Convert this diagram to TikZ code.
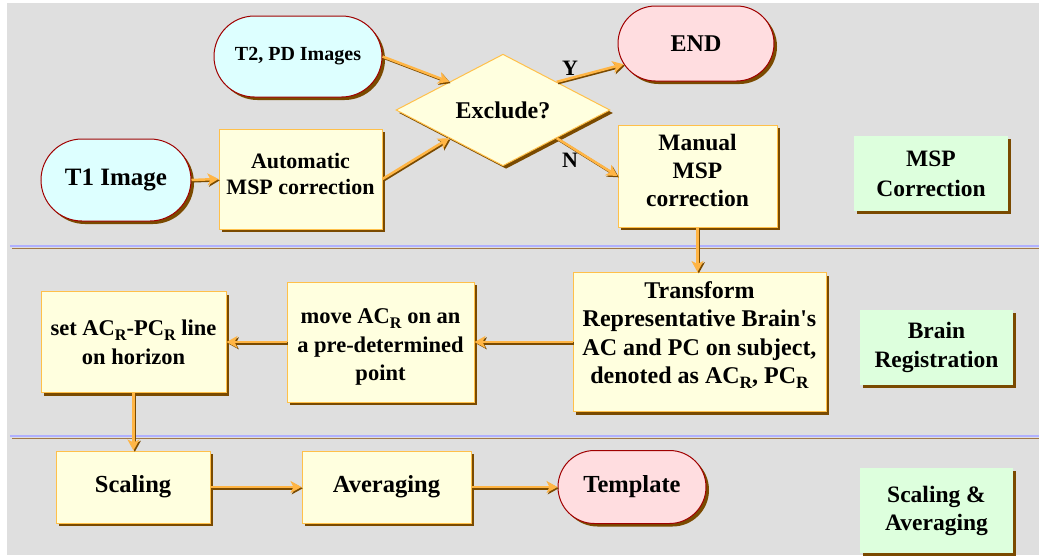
\documentclass[tikz,border=0pt]{standalone}
\usepackage{fontspec}
\setmainfont{Liberation Serif}
\usetikzlibrary{shapes.misc,shapes.geometric,shadows,arrows.meta,calc}
\definecolor{bg}{HTML}{DFDFDF}
\definecolor{boxfill}{HTML}{FFFFDF}
\definecolor{boxdraw}{HTML}{FFC04A}
\definecolor{cyanfill}{HTML}{DDFFFF}
\definecolor{pinkfill}{HTML}{FFDDE0}
\definecolor{greenfill}{HTML}{DDFFDD}
\definecolor{redline}{HTML}{A00000}
\definecolor{shadowbrown}{HTML}{7A4A00}
\definecolor{arroworange}{HTML}{FFB545}
\definecolor{sepblue}{HTML}{B0B0FF}
\definecolor{sepbrown}{HTML}{A07848}
\newcommand\fsz[2]{\fontsize{#1}{#2}\selectfont\bfseries}
\newcommand\sbR{\raisebox{-0.22em}{\scalebox{0.72}{R}}}
\newcommand\sq{\XeTeXglyph\XeTeXcharglyph"0027\relax}
\tikzset{
  shad/.style={drop shadow={shadow xshift=3pt,shadow yshift=-3pt,fill=shadowbrown,opacity=1}},
  proc/.style={rectangle, draw=boxdraw, line width=1pt, fill=boxfill, shad, align=center, inner sep=0pt},
  term/.style={rounded rectangle, draw=redline, line width=1pt, shad, align=center, inner sep=0pt},
  lab/.style={rectangle, fill=greenfill, shad, align=center, inner sep=0pt},
  dec/.style={diamond, draw=boxdraw, line width=1pt, fill=boxfill, shad, inner sep=0pt},
  txt/.style={align=center, inner sep=0pt},
  conn/.style={draw=arroworange, line width=2.5pt, -{Stealth[length=11pt,width=12pt,inset=3pt]},
    preaction={draw=shadowbrown, line width=2.5pt, transform canvas={shift={(1.3pt,-1.3pt)}}}},
  yn/.style={font=\fsz{22}{26}},
}
\begin{document}
\begin{tikzpicture}[x=1pt,y=-1pt]
\useasboundingbox (0,0) rectangle (1039,555);
\fill[bg] (7,3) rectangle (1039,555);
\draw[sepblue, line width=1.5pt] (10,246) -- (1039,246);
\draw[sepbrown, line width=1.5pt] (12,248.5) -- (1039,248.5);
\draw[sepblue, line width=1.5pt] (10,436) -- (1039,436);
\draw[sepbrown, line width=1.5pt] (12,438.5) -- (1039,438.5);

\node[term, fill=cyanfill, minimum width=168pt, minimum height=81pt, font=\fsz{20}{24}] (t2) at (298,56.5) {T2, PD Images};
\node[term, fill=cyanfill, minimum width=150pt, minimum height=82pt, font=\fsz{25}{30}] (t1) at (116,180) {T1 Image};
\node[proc, minimum width=163pt, minimum height=100pt,
  label={[txt, font=\fsz{22}{26.5}, yshift=5pt]center:Automatic\\MSP correction}] (auto) at (300.5,179) {};
\node[dec, minimum width=214pt, minimum height=84pt, font=\fsz{24}{28}] (ex) at (503,110) {Exclude?};
\node[term, fill=pinkfill, minimum width=156pt, minimum height=75pt, font=\fsz{24}{28}] (en) at (696,43.5) {END};
\node[proc, minimum width=159pt, minimum height=102pt,
  label={[txt, font=\fsz{23.5}{28}, yshift=6pt]center:Manual\\MSP\\correction}] (man) at (697.5,176) {};
\node[lab, minimum width=154pt, minimum height=75pt, font=\fsz{23.5}{30}] (lmsp) at (931,173.5) {MSP\\Correction};
\node[proc, minimum width=253pt, minimum height=139pt,
  label={[txt, font=\fsz{24}{28.5}, yshift=7pt]center:Transform\\Representative Brain\sq s\\AC and PC on subject,\\denoted as AC\sbR, PC\sbR}] (tr) at (699.5,342) {};
\node[lab, minimum width=153pt, minimum height=75pt, font=\fsz{23.5}{29}] (lbr) at (936.5,347.5) {Brain\\Registration};
\node[proc, minimum width=187pt, minimum height=120pt,
  label={[txt, font=\fsz{22.5}{28.5}, yshift=-5pt]center:move AC\sbR{} on an\\a pre-determined\\point}] (mv) at (380.5,342) {};
\node[proc, minimum width=185pt, minimum height=101pt, font=\fsz{22.5}{29}] (set) at (133.5,342) {set AC\sbR-PC\sbR{} line\\on horizon};
\node[proc, minimum width=154pt, minimum height=72pt, font=\fsz{24.5}{29}] (sc) at (133,487) {Scaling};
\node[proc, minimum width=169pt, minimum height=72pt, font=\fsz{24.5}{29}] (av) at (386.5,487) {Averaging};
\node[term, fill=pinkfill, minimum width=148pt, minimum height=73pt, font=\fsz{24.5}{29}] (tp) at (632,487) {Template};
\node[lab, minimum width=153pt, minimum height=85pt, font=\fsz{23.5}{28}] (lsa) at (936.5,510.5) {Scaling \&\\Averaging};
\node[yn] (ly) at (570,68) {Y};
\node[yn] (ln) at (570,160) {N};

\draw[conn] (t1.east) -- (auto.west);
\draw[conn] (t2.east) -- (ex.north west);
\draw[conn] (auto.east) -- (ex.south west);
\draw[conn] (ex.north east) -- (en.196);
\draw[conn] (ex.south east) -- (man.west);
\draw[conn] (man.south) -- (man.south |- tr.north);
\draw[conn] (tr.west) -- (mv.east);
\draw[conn] (mv.west) -- (set.east);
\draw[conn] (set.south) -- (set.south |- sc.north);
\draw[conn] (sc.east) -- (av.west);
\draw[conn] (av.east) -- (tp.west);
\end{tikzpicture}
\end{document}
